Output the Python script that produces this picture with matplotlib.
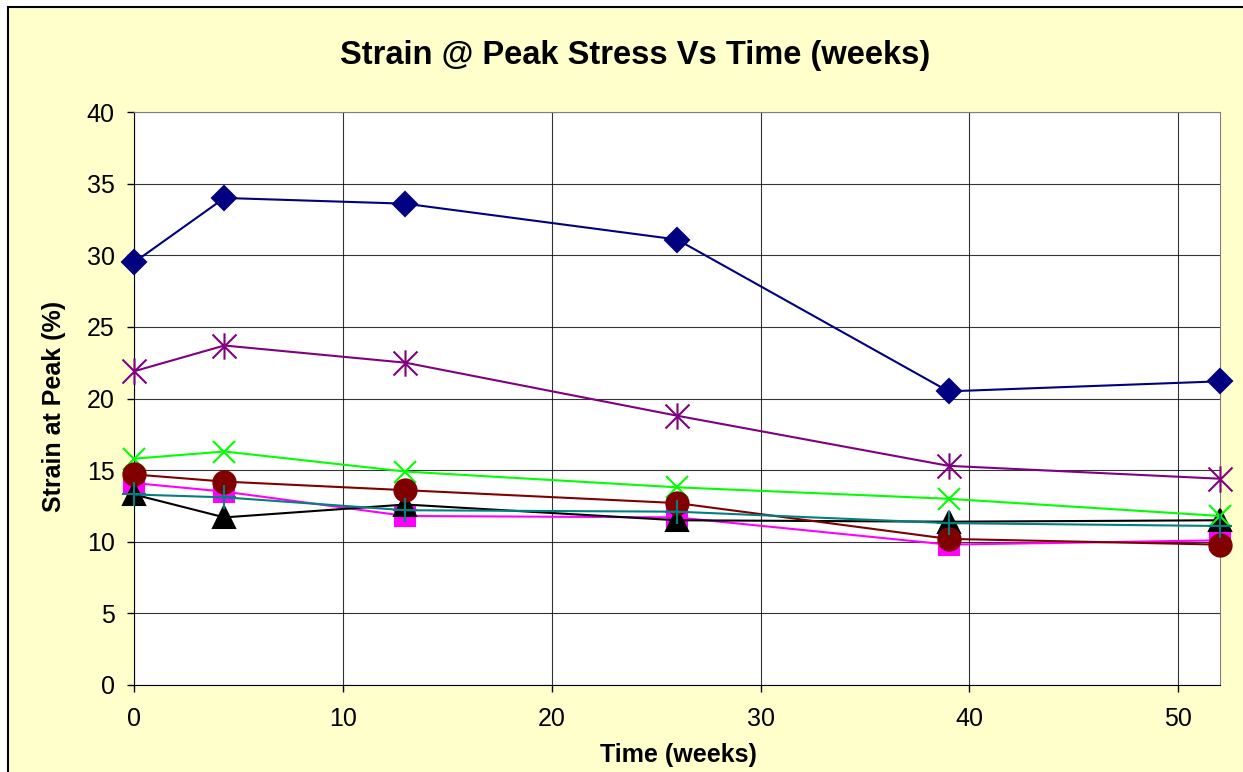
import numpy as np
import matplotlib
matplotlib.use("Agg")
import matplotlib.pyplot as plt
from matplotlib.path import Path
from matplotlib.patches import Rectangle

plt.rcParams['font.family'] = ['Liberation Sans', 'DejaVu Sans']

weeks = [0, 4.33, 13, 26, 39, 52]

navy_diamond = [29.5, 34.0, 33.6, 31.1, 20.5, 21.2]
magenta_square = [14.1, 13.5, 11.8, 11.7, 9.8, 10.1]
black_triangle = [13.3, 11.7, 12.6, 11.5, 11.4, 11.5]
green_x = [15.8, 16.3, 14.9, 13.8, 13.0, 11.8]
purple_star = [21.9, 23.7, 22.5, 18.8, 15.3, 14.4]
maroon_circle = [14.7, 14.2, 13.6, 12.7, 10.2, 9.8]
teal_plus = [13.3, 13.1, 12.2, 12.1, 11.3, 11.1]

# excel style asterisk: an x with a vertical bar
star = Path([(-1, -1), (1, 1), (-1, 1), (1, -1), (0, -1.1), (0, 1.1)],
            [Path.MOVETO, Path.LINETO, Path.MOVETO, Path.LINETO, Path.MOVETO, Path.LINETO])

fig = plt.figure(figsize=(12.43, 7.72), dpi=100)
fig.patch.set_facecolor('white')
fig.patches.append(Rectangle((8 / 1243, -0.05), 1.1, 1 - 7 / 772 + 0.05, transform=fig.transFigure,
                             facecolor='#FFFFCC', edgecolor='black', linewidth=1.5, zorder=-5))

ax = fig.add_axes([0.1078, 0.1127, 0.8737, 0.7422])
ax.set_facecolor('white')

series = [
    (navy_diamond, '#000080', 'D', 12),
    (magenta_square, '#FF00FF', 's', 15),
    (black_triangle, 'black', '^', 16),
    (green_x, '#00FF00', 'x', 16),
    (purple_star, '#800080', star, 19),
    (maroon_circle, '#800000', 'o', 16),
    (teal_plus, '#008080', '+', 17),
]
for vals, col, mk, ms in series:
    ax.plot(weeks, vals, color=col, linewidth=1.5, marker=mk, markersize=ms,
            markerfacecolor=col, markeredgecolor=col, markeredgewidth=1.5, clip_on=False, zorder=3)

ax.set_xlim(0, 52)
ax.set_ylim(0, 40)
ax.set_xticks(np.arange(0, 51, 10))
ax.set_yticks(np.arange(0, 41, 5))
ax.grid(True, color='black', linewidth=0.8, alpha=0.8, zorder=0)
ax.set_axisbelow(True)
for s in ['top', 'right']:
    ax.spines[s].set_color('#808080')
for s in ['left', 'bottom']:
    ax.spines[s].set_color('black')
ax.tick_params(labelsize=18, length=5, width=1, direction='out')
ax.tick_params(axis='y', pad=9)
ax.tick_params(axis='x', pad=11)

fig.text(0.5455, 0.022, 'Time (weeks)', ha='center', va='center', fontsize=18, fontweight='bold')
fig.text(0.0434, 0.474, 'Strain at Peak (%)', ha='center', va='center', rotation=90,
         fontsize=18, fontweight='bold')
fig.text(0.511, 0.928, 'Strain @ Peak Stress Vs Time (weeks)', ha='center', va='center',
         fontsize=23.5, fontweight='bold')

fig.savefig('out.png', dpi=100)
